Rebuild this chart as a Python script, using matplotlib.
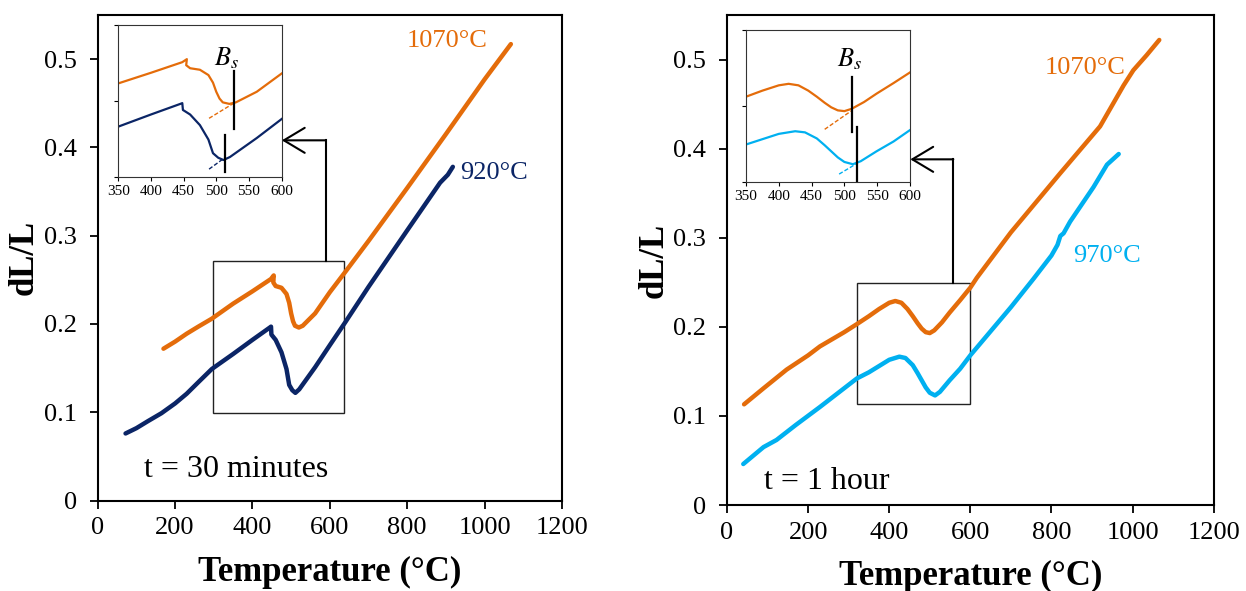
import matplotlib
matplotlib.use("Agg")
import matplotlib.pyplot as plt
from matplotlib.patches import Rectangle

plt.rcParams['font.family'] = ['Liberation Serif', 'DejaVu Serif']
plt.rcParams['mathtext.fontset'] = 'stix'

ORANGE = '#E46C0A'
NAVY = '#0B2566'
SKY = '#00B0F0'

# --- t = 30 minutes ---
t30_orange_T = [170, 200, 230, 260, 295, 350, 400, 448, 455, 454, 460, 475, 488, 495,
                500, 505, 510, 520, 530, 562, 600, 640, 700, 800, 900, 1000, 1068]
t30_orange_dl = [0.172, 0.180, 0.189, 0.197, 0.206, 0.223, 0.237, 0.251, 0.255, 0.247,
                 0.243, 0.241, 0.234, 0.224, 0.212, 0.203, 0.198, 0.196, 0.198, 0.212,
                 0.236, 0.259, 0.294, 0.354, 0.415, 0.477, 0.517]
t30_navy_T = [72, 100, 130, 165, 200, 230, 260, 295, 350, 400, 445, 448, 449, 460, 475,
              488, 495, 503, 511, 521, 562, 600, 640, 700, 800, 885, 905, 918]
t30_navy_dl = [0.076, 0.082, 0.090, 0.099, 0.110, 0.121, 0.134, 0.149, 0.166, 0.182,
               0.196, 0.197, 0.188, 0.182, 0.168, 0.149, 0.131, 0.125, 0.122, 0.126,
               0.151, 0.176, 0.202, 0.242, 0.306, 0.360, 0.369, 0.378]

# --- t = 1 hour ---
t1h_orange_T = [42, 90, 147, 200, 229, 289, 320, 350, 375, 400, 415, 430, 445, 458,
                470, 480, 490, 500, 511, 530, 549, 575, 600, 616, 700, 821, 920, 978,
                1002, 1035, 1066]
t1h_orange_dl = [0.113, 0.131, 0.152, 0.168, 0.178, 0.194, 0.203, 0.212, 0.220, 0.227,
                 0.229, 0.227, 0.220, 0.212, 0.204, 0.198, 0.194, 0.193, 0.196, 0.205,
                 0.216, 0.230, 0.244, 0.255, 0.306, 0.372, 0.425, 0.471, 0.488, 0.505,
                 0.522]
t1h_sky_T = [40, 90, 122, 170, 229, 320, 350, 375, 400, 425, 440, 458, 470, 480, 490,
             500, 513, 525, 549, 575, 600, 700, 756, 800, 815, 822, 830, 846, 904, 937,
             966]
t1h_sky_dl = [0.046, 0.065, 0.073, 0.090, 0.110, 0.142, 0.149, 0.156, 0.163, 0.1665,
              0.165, 0.157, 0.148, 0.140, 0.132, 0.126, 0.123, 0.127, 0.140, 0.153,
              0.168, 0.222, 0.254, 0.280, 0.292, 0.302, 0.305, 0.318, 0.357, 0.382,
              0.394]

y_ticks = [0, 0.1, 0.2, 0.3, 0.4, 0.5]
y_labels = ['0', '0.1', '0.2', '0.3', '0.4', '0.5']
x_ticks = [0, 200, 400, 600, 800, 1000, 1200]
inset_x_ticks = [350, 400, 450, 500, 550, 600]

fig = plt.figure(figsize=(12.46, 5.91), dpi=100)


def main_axes(rect):
    ax = fig.add_axes(rect)
    ax.set_xlim(0, 1200)
    ax.set_ylim(0, 0.55)
    ax.set_xticks(x_ticks)
    ax.set_yticks(y_ticks)
    ax.set_yticklabels(y_labels)
    ax.tick_params(direction='out', length=6, width=1.3, labelsize=19)
    ax.tick_params(axis='y', pad=9)
    ax.tick_params(axis='x', pad=6)
    for s in ax.spines.values():
        s.set_linewidth(1.5)
    ax.set_xlabel('Temperature (°C)', fontsize=25, fontweight='bold', labelpad=12)
    ax.set_ylabel('dL/L', fontsize=25, fontweight='bold', labelpad=2)
    return ax


def inset_axes(rect):
    ins = fig.add_axes(rect)
    ins.set_xlim(350, 600)
    ins.set_ylim(0.1, 0.3)
    ins.set_xticks(inset_x_ticks)
    ins.set_yticks([0.1, 0.2, 0.3])
    ins.set_yticklabels([])
    ins.tick_params(direction='out', length=3, width=0.8, labelsize=11, pad=3)
    for s in ins.spines.values():
        s.set_linewidth(0.8)
        s.set_color('#333333')
    return ins


def arrow(ax, x_up, y_from, y_level, x_tip):
    ax.plot([x_up, x_up], [y_from, y_level], color='k', lw=1.5,
            solid_capstyle='projecting')
    ax.annotate('', xy=(x_tip, y_level), xytext=(x_up, y_level),
                arrowprops=dict(arrowstyle='->,head_length=1.0,head_width=0.6',
                                color='k', lw=1.5, shrinkA=0, shrinkB=0,
                                mutation_scale=15))


# left panel
ax1 = main_axes([0.0784, 0.153, 0.3726, 0.8217])
ax1.plot(t30_orange_T, t30_orange_dl, color=ORANGE, lw=3.2, solid_capstyle='round')
ax1.plot(t30_navy_T, t30_navy_dl, color=NAVY, lw=3.2, solid_capstyle='round')
ax1.text(902, 0.521, '1070°C', color=ORANGE, fontsize=19, ha='center', va='center')
ax1.text(938, 0.371, '920°C', color=NAVY, fontsize=19, ha='left', va='center')
ax1.text(119, 0.035, 't = 30 minutes', fontsize=23, ha='left', va='center')
ax1.add_patch(Rectangle((297, 0.099), 340, 0.1725, fill=False, ec='#222222', lw=1))
arrow(ax1, 589, 0.2717, 0.408, 476)

in1 = inset_axes([0.0949, 0.701, 0.1311, 0.2567])
in1.plot(t30_orange_T, t30_orange_dl, color=ORANGE, lw=1.6)
in1.plot(t30_navy_T, t30_navy_dl, color=NAVY, lw=1.6)
in1.plot([489, 527], [0.177, 0.197], color=ORANGE, lw=1, ls='--', dashes=(3, 1.5))
in1.plot([489, 513], [0.110, 0.125], color=NAVY, lw=1, ls='--', dashes=(3, 1.5))
in1.plot([527, 527], [0.163, 0.239], color='k', lw=1.6)
in1.plot([513, 513], [0.106, 0.155], color='k', lw=1.6)
in1.text(516, 0.256, r'$B_s$', fontsize=19, ha='center', va='center')

# right panel
ax2 = main_axes([0.5835, 0.1455, 0.3905, 0.8291])
ax2.plot(t1h_orange_T, t1h_orange_dl, color=ORANGE, lw=3.2, solid_capstyle='round')
ax2.plot(t1h_sky_T, t1h_sky_dl, color=SKY, lw=3.2, solid_capstyle='round')
ax2.text(882, 0.490, '1070°C', color=ORANGE, fontsize=19, ha='center', va='center')
ax2.text(936, 0.279, '970°C', color=SKY, fontsize=19, ha='center', va='center')
ax2.text(91, 0.026, 't = 1 hour', fontsize=23, ha='left', va='center')
ax2.add_patch(Rectangle((320, 0.1134), 278, 0.1361, fill=False, ec='#222222', lw=1))
arrow(ax2, 558, 0.2495, 0.388, 452)

in2 = inset_axes([0.5987, 0.6926, 0.1316, 0.2567])
in2.plot(t1h_orange_T, t1h_orange_dl, color=ORANGE, lw=1.6)
in2.plot(t1h_sky_T, t1h_sky_dl, color=SKY, lw=1.6)
in2.plot([470, 510], [0.169, 0.193], color=ORANGE, lw=1, ls='--', dashes=(3, 1.5))
in2.plot([492, 519], [0.110, 0.124], color=SKY, lw=1, ls='--', dashes=(3, 1.5))
in2.plot([511, 511], [0.166, 0.238], color='k', lw=1.6)
in2.plot([519, 519], [0.100, 0.172], color='k', lw=1.6)
in2.text(508, 0.262, r'$B_s$', fontsize=19, ha='center', va='center')

fig.savefig('out.png', dpi=100)
